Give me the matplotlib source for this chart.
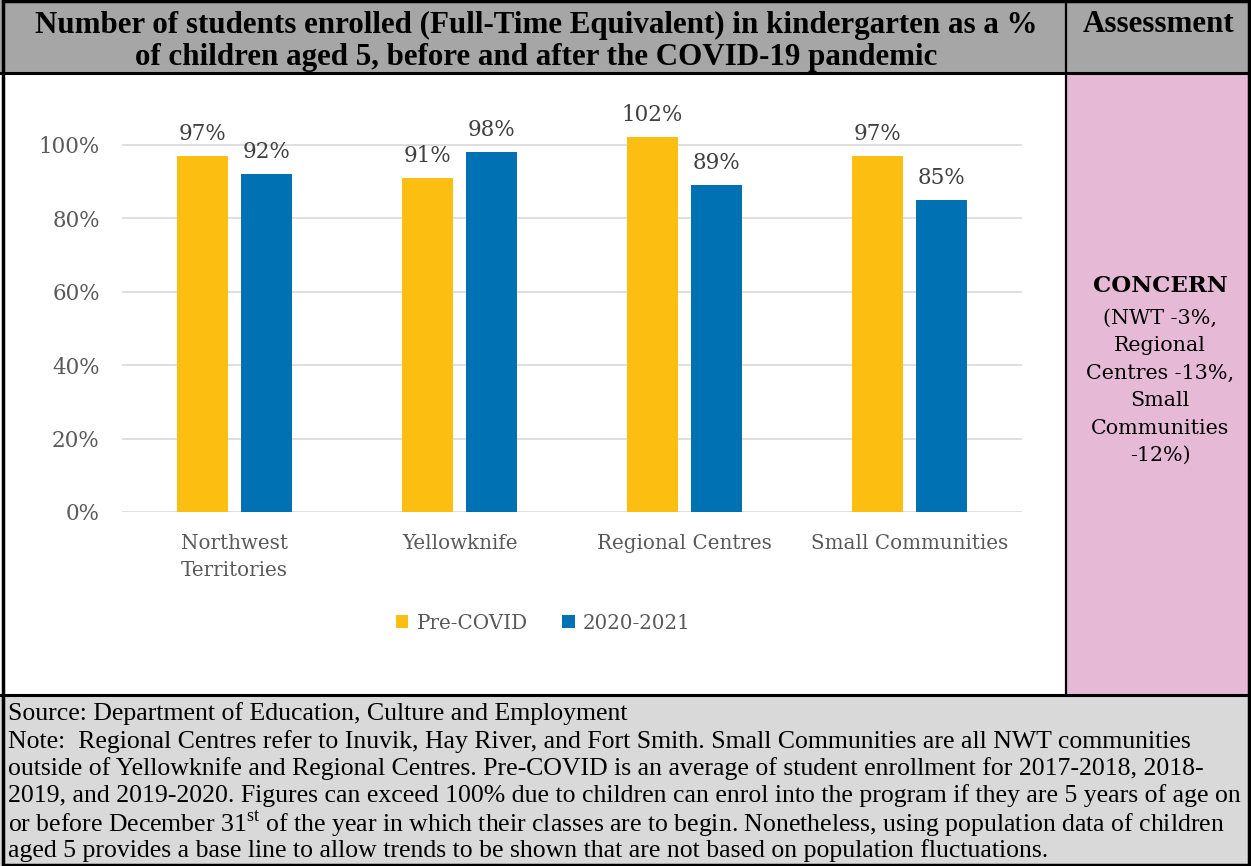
import numpy as np
import matplotlib
matplotlib.use("Agg")
import matplotlib.pyplot as plt
from matplotlib.patches import Rectangle
from matplotlib.lines import Line2D

# data
categories = ["Northwest\nTerritories", "Yellowknife", "Regional Centres", "Small Communities"]
pre_covid = [0.97, 0.91, 1.02, 0.97]
y2020_21 = [0.92, 0.98, 0.89, 0.85]
series_names = ["Pre-COVID", "2020-2021"]
y_ticks = [0, 0.2, 0.4, 0.6, 0.8, 1.0]

title_lines = ["Number of students enrolled (Full-Time Equivalent) in kindergarten as a %",
               "of children aged 5, before and after the COVID-19 pandemic"]
assess_head = "Assessment"
assess_title = "CONCERN"
assess_lines = ["(NWT -3%,", "Regional", "Centres -13%,", "Small", "Communities", "-12%)"]
footer_lines = [
    "Source: Department of Education, Culture and Employment",
    "Note:  Regional Centres refer to Inuvik, Hay River, and Fort Smith. Small Communities are all NWT communities",
    "outside of Yellowknife and Regional Centres. Pre-COVID is an average of student enrollment for 2017-2018, 2018-",
    "2019, and 2019-2020. Figures can exceed 100% due to children can enrol into the program if they are 5 years of age on",
    r"or before December 31$^{\mathrm{st}}$ of the year in which their classes are to begin. Nonetheless, using population data of children",
    "aged 5 provides a base line to allow trends to be shown that are not based on population fluctuations.",
]

YELLOW = "#FCBE11"
BLUE = "#0072B4"
HEAD_GRAY = "#A6A6A6"
FOOT_GRAY = "#D9D9D9"
PINK = "#E6B9D7"
TXT = "#595959"
FS = 15.5     # tick and value labels
FS_CAT = 14.3  # category and legend labels

plt.rcParams["mathtext.fontset"] = "custom"
plt.rcParams["mathtext.rm"] = "Liberation Serif"

W, H = 1251, 866
fig = plt.figure(figsize=(W / 100, H / 100), dpi=100)

# background layer in pixel coordinates
bg = fig.add_axes([0, 0, 1, 1], zorder=0)
bg.set_xlim(0, W)
bg.set_ylim(H, 0)
bg.axis("off")
bg.add_patch(Rectangle((0, 0), W, 73, color=HEAD_GRAY, lw=0))
bg.add_patch(Rectangle((1066, 73), W - 1066, 622, color=PINK, lw=0))
bg.add_patch(Rectangle((0, 695), W, H - 695, color=FOOT_GRAY, lw=0))
bg.add_line(Line2D([0, W], [73, 73], color="black", lw=2.2))
bg.add_line(Line2D([0, W], [695, 695], color="black", lw=2.2))
bg.add_line(Line2D([1066, 1066], [0, 695], color="black", lw=1.6))
bg.add_patch(Rectangle((2.5, 1), W - 5, H - 2, fill=False, ec="black", lw=2.5))

head_font = dict(family="Liberation Serif", weight="bold", fontsize=22.3, color="black")
bg.text(536, 25, title_lines[0], ha="center", va="center", **head_font)
bg.text(536, 58, title_lines[1], ha="center", va="center", **head_font)
bg.text(1159, 25, assess_head, ha="center", va="center", **head_font)

bg.text(1160, 286, assess_title, ha="center", va="center",
        family="DejaVu Serif", weight="bold", fontsize=16.5, color="black")
for i, line in enumerate(assess_lines):
    bg.text(1160, 318 + i * 27.5, line, ha="center", va="center",
            family="DejaVu Serif", fontsize=14.9, color="black")

for i, line in enumerate(footer_lines):
    bg.text(8, 714 + i * 27.3, line, ha="left", va="center",
            family="Liberation Serif", fontsize=18.5, color="black")

# chart
ax = fig.add_axes([122 / W, (H - 512) / H, 900 / W, 404 / H], zorder=1)
ax.patch.set_alpha(0)
x = np.arange(len(categories))
bw = 0.227
off = 0.142
b1 = ax.bar(x - off, pre_covid, bw, color=YELLOW, label=series_names[0], zorder=2)
b2 = ax.bar(x + off, y2020_21, bw, color=BLUE, label=series_names[1], zorder=2)

for bars, vals in ((b1, pre_covid), (b2, y2020_21)):
    for rect, v in zip(bars, vals):
        ax.annotate(f"{v * 100:.0f}%", (rect.get_x() + rect.get_width() / 2, v),
                    xytext=(0, 8), textcoords="offset points", ha="center", va="bottom",
                    family="DejaVu Serif", fontsize=FS, color="#404040", clip_on=False)

ax.set_xlim(-0.5, len(categories) - 0.5)
ax.set_ylim(0, 1.1)
ax.set_yticks(y_ticks)
ax.set_yticklabels([f"{t * 100:.0f}%" for t in y_ticks], family="DejaVu Serif", fontsize=FS, color=TXT)
ax.set_xticks(x)
ax.set_xticklabels(categories, family="DejaVu Serif", fontsize=FS_CAT, color=TXT, linespacing=1.5)
ax.tick_params(axis="y", length=0, pad=16)
ax.tick_params(axis="x", length=0, pad=16)
for s in ax.spines.values():
    s.set_visible(False)
ax.yaxis.grid(True, color="#D9D9D9", lw=1.2, zorder=0)
ax.set_axisbelow(True)

leg = ax.legend(loc="center", bbox_to_anchor=(0.468, -0.275), ncol=2, frameon=False,
                handlelength=0.62, handleheight=0.62, handletextpad=0.42, columnspacing=1.75,
                prop={"family": "DejaVu Serif", "size": FS_CAT})
for t in leg.get_texts():
    t.set_color(TXT)

fig.savefig("out.png", dpi=100)
